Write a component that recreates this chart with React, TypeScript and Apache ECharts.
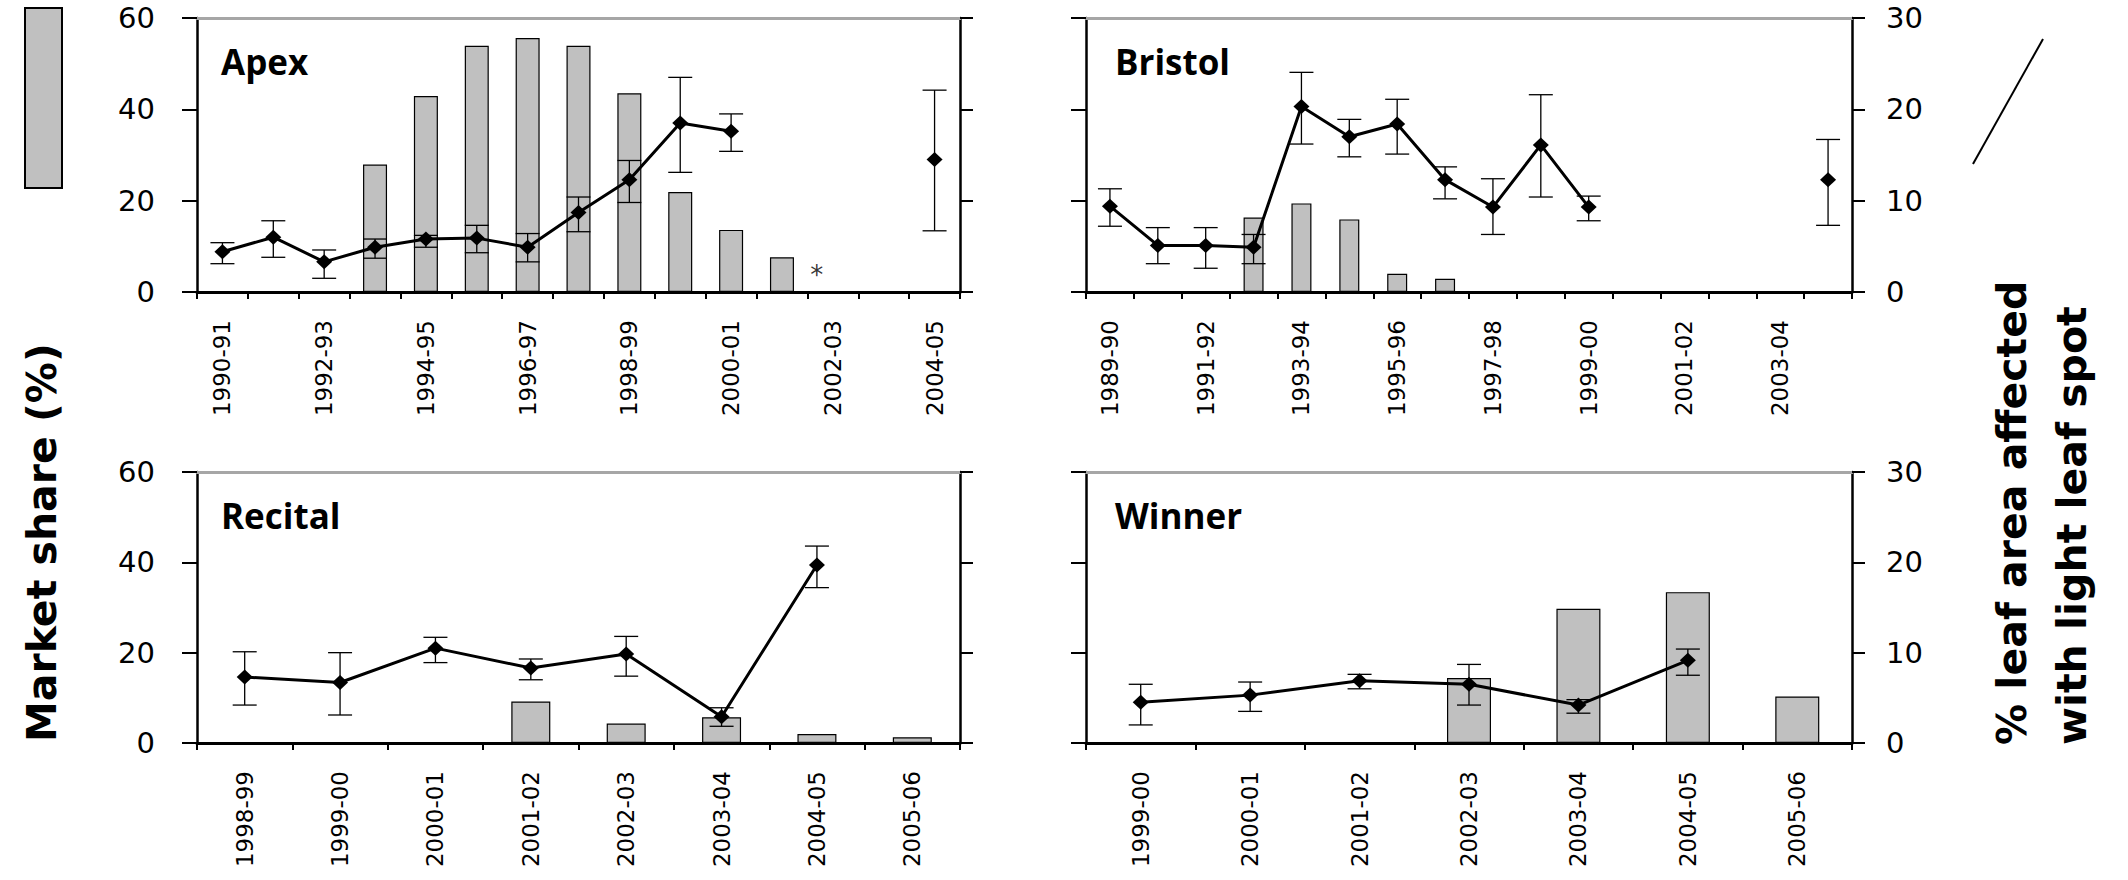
import React, { useEffect, useRef } from "react";
import * as echarts from "echarts";

// ---------- DATA ----------
const apexSeasons = ["1990-91","1991-92","1992-93","1993-94","1994-95","1995-96","1996-97","1997-98","1998-99","1999-00","2000-01","2001-02","2002-03","2003-04","2004-05"];
const apexShare = [null,null,null,27.9,42.9,53.9,55.6,53.9,43.5,21.9,13.6,7.6,null,null,null];
const apexSpot = [4.4,6.0,3.3,4.9,5.8,5.9,4.9,8.7,12.3,18.5,17.6,null,null,null,14.5];
const apexHigh = [5.4,7.8,4.6,5.8,6.2,7.3,6.4,10.4,14.4,23.5,19.5,null,null,null,22.1];
const apexLow = [3.1,3.8,1.5,3.7,4.9,4.3,3.3,6.6,9.8,13.1,15.4,null,null,null,6.7];
const apexNotes = ["2002-03"];

const bristolSeasons = ["1989-90","1990-91","1991-92","1992-93","1993-94","1994-95","1995-96","1996-97","1997-98","1998-99","1999-00","2000-01","2001-02","2002-03","2003-04","2004-05"];
const bristolShare = [null,null,null,16.3,19.4,15.9,4.0,2.9,null,null,null,null,null,null,null,null];
const bristolSpot = [9.4,5.1,5.1,4.9,20.3,17.0,18.4,12.3,9.3,16.1,9.3,null,null,null,null,12.3];
const bristolHigh = [11.3,7.05,7.05,6.3,24.05,18.9,21.1,13.7,12.4,21.6,10.5,null,null,null,null,16.7];
const bristolLow = [7.2,3.1,2.6,3.1,16.2,14.8,15.1,10.2,6.3,10.4,7.8,null,null,null,null,7.3];

const recitalSeasons = ["1998-99","1999-00","2000-01","2001-02","2002-03","2003-04","2004-05","2005-06"];
const recitalShare = [null,null,null,9.2,4.3,5.7,2.0,1.25];
const recitalSpot = [7.3,6.7,10.5,8.3,9.85,2.9,19.7,null];
const recitalHigh = [10.1,10.0,11.7,9.3,11.8,3.9,21.8,null];
const recitalLow = [4.2,3.1,8.9,7.0,7.4,1.85,17.2,null];

const winnerSeasons = ["1999-00","2000-01","2001-02","2002-03","2003-04","2004-05","2005-06"];
const winnerShare = [null,null,null,14.4,29.7,33.4,10.3];
const winnerSpot = [4.5,5.3,6.9,6.5,4.2,9.15,null];
const winnerHigh = [6.5,6.75,7.6,8.7,4.8,10.4,null];
const winnerLow = [2.0,3.5,6.0,4.2,3.3,7.5,null];

const shareTicks = { min: 0, max: 60, interval: 20 };
const spotTicks = { min: 0, max: 30, interval: 10 };

const leftTitle = "Market share (%)";
const rightTitle = ["% leaf area affected", "with light leaf spot"];

// ---------- LAYOUT ----------
const panels = [
  { name: "Apex", seasons: apexSeasons, share: apexShare, spot: apexSpot, high: apexHigh, low: apexLow, notes: apexNotes,
    grid: { left: 197, top: 18, width: 763, height: 274 }, barWidth: 24, labelInterval: 1, leftLabels: true, rightLabels: false },
  { name: "Bristol", seasons: bristolSeasons, share: bristolShare, spot: bristolSpot, high: bristolHigh, low: bristolLow, notes: [],
    grid: { left: 1086, top: 18, width: 766, height: 274 }, barWidth: 20, labelInterval: 1, leftLabels: false, rightLabels: true },
  { name: "Recital", seasons: recitalSeasons, share: recitalShare, spot: recitalSpot, high: recitalHigh, low: recitalLow, notes: [],
    grid: { left: 197, top: 472, width: 763, height: 271 }, barWidth: 39, labelInterval: 0, leftLabels: true, rightLabels: false },
  { name: "Winner", seasons: winnerSeasons, share: winnerShare, spot: winnerSpot, high: winnerHigh, low: winnerLow, notes: [],
    grid: { left: 1086, top: 472, width: 766, height: 271 }, barWidth: 44, labelInterval: 0, leftLabels: false, rightLabels: true },
];

const NUM_FONT = "DejaVu Sans";

function buildOption() {
  const grid: any[] = [];
  const xAxis: any[] = [];
  const yAxis: any[] = [];
  const series: any[] = [];
  const graphic: any[] = [];

  panels.forEach((p, i) => {
    grid.push({ ...p.grid, containLabel: false });
    xAxis.push({
      type: "category", gridIndex: i, data: p.seasons, position: "bottom", boundaryGap: true,
      axisLine: { show: true, onZero: false, lineStyle: { color: "#000", width: 3 } },
      axisTick: { show: true, interval: 0, length: 7, lineStyle: { color: "#000", width: 2 } },
      axisLabel: { show: true, interval: p.labelInterval, rotate: 90, margin: 28, fontFamily: NUM_FONT, fontSize: 23, color: "#000", padding: [16, 0, 0, 0] },
      splitLine: { show: false },
    });
    xAxis.push({
      type: "category", gridIndex: i, data: p.seasons, position: "top", boundaryGap: true,
      axisLine: { show: true, onZero: false, lineStyle: { color: "#a6a6a6", width: 3 } },
      axisTick: { show: false }, axisLabel: { show: false }, splitLine: { show: false },
    });
    yAxis.push({
      type: "value", gridIndex: i, position: "left", ...shareTicks,
      axisLine: { show: true, lineStyle: { color: "#000", width: 2.5 } },
      axisTick: { show: true, length: 15, lineStyle: { color: "#000", width: 2 } },
      axisLabel: { show: p.leftLabels, margin: 42, fontFamily: NUM_FONT, fontSize: 29, color: "#000", padding: [12, 0, 0, 0] },
      splitLine: { show: false },
    });
    yAxis.push({
      type: "value", gridIndex: i, position: "right", ...spotTicks,
      axisLine: { show: true, lineStyle: { color: "#000", width: 2.5 } },
      axisTick: { show: true, length: 13, lineStyle: { color: "#000", width: 2 } },
      axisLabel: { show: p.rightLabels, margin: 34, fontFamily: NUM_FONT, fontSize: 29, color: "#000", padding: [12, 0, 0, 0] },
      splitLine: { show: false },
    });

    const xi = i * 2;
    series.push({
      type: "bar", xAxisIndex: xi, yAxisIndex: i * 2, data: p.share, barWidth: p.barWidth,
      itemStyle: { color: "#c0c0c0", borderColor: "#000", borderWidth: 1.2 }, z: 2,
    });
    const errData = p.seasons
      .map((s, k) => (p.low[k] == null ? null : [k, p.low[k], p.high[k]]))
      .filter((d) => d != null);
    series.push({
      type: "custom", xAxisIndex: xi, yAxisIndex: i * 2 + 1, data: errData, z: 3,
      encode: { x: 0, y: [1, 2] },
      renderItem: (params: any, api: any) => {
        const x = api.value(0);
        const lo = api.coord([x, api.value(1)]);
        const hi = api.coord([x, api.value(2)]);
        const hw = 12;
        const st = { stroke: "#000", lineWidth: 1.3 };
        return {
          type: "group",
          children: [
            { type: "line", shape: { x1: lo[0], y1: lo[1], x2: hi[0], y2: hi[1] }, style: st },
            { type: "line", shape: { x1: lo[0] - hw, y1: lo[1], x2: lo[0] + hw, y2: lo[1] }, style: st },
            { type: "line", shape: { x1: hi[0] - hw, y1: hi[1], x2: hi[0] + hw, y2: hi[1] }, style: st },
          ],
        };
      },
    });
    series.push({
      type: "line", xAxisIndex: xi, yAxisIndex: i * 2 + 1, data: p.spot, connectNulls: false,
      symbol: "diamond", symbolSize: [16, 15], showSymbol: true, showAllSymbol: true,
      lineStyle: { color: "#000", width: 3 }, itemStyle: { color: "#000" }, z: 4,
    });
    if (p.notes.length) {
      series.push({
        type: "scatter", xAxisIndex: xi, yAxisIndex: i * 2, data: p.notes.map((s) => [s, 0]),
        symbolSize: 0, z: 5, itemStyle: { color: "#000" },
        label: { show: true, formatter: "*", position: "top", distance: 4, offset: [-16, 0], fontFamily: NUM_FONT, fontSize: 26, color: "#000" },
      });
    }

    graphic.push({
      type: "text", left: p.grid.left + (i % 2 === 0 ? 24 : 29), top: p.grid.top + 26,
      style: { text: p.name, font: "bold 35px 'Open Sans'", fill: "#000" },
    });
  });

  // legend keys
  graphic.push({ type: "rect", shape: { x: 25, y: 8, width: 37, height: 180 }, style: { fill: "#c0c0c0", stroke: "#000", lineWidth: 2 } });
  graphic.push({ type: "line", shape: { x1: 1973, y1: 164, x2: 2043, y2: 39 }, style: { stroke: "#000", lineWidth: 2 } });

  // axis titles
  graphic.push({
    type: "text", x: 42, y: 742, rotation: Math.PI / 2,
    style: { text: leftTitle, font: "bold 41px 'DejaVu Sans'", fill: "#000", align: "left", verticalAlign: "middle" },
  });
  graphic.push({
    type: "text", x: 2042, y: 745, rotation: Math.PI / 2,
    style: { text: rightTitle.join("\n"), font: "bold 41px 'DejaVu Sans'", lineHeight: 60, fill: "#000", align: "left", verticalAlign: "middle" },
  });

  return { animation: false, backgroundColor: "#fff", grid, xAxis, yAxis, series, graphic };
}

export default function App() {
  const ref = useRef<HTMLDivElement>(null);
  useEffect(() => {
    const chart = echarts.init(ref.current!, null, { renderer: "svg" });
    chart.setOption(buildOption());
    return () => chart.dispose();
  }, []);
  return <div ref={ref} style={{ position: "fixed", left: 0, top: 0, width: 2128, height: 880, background: "#fff" }} />;
}
